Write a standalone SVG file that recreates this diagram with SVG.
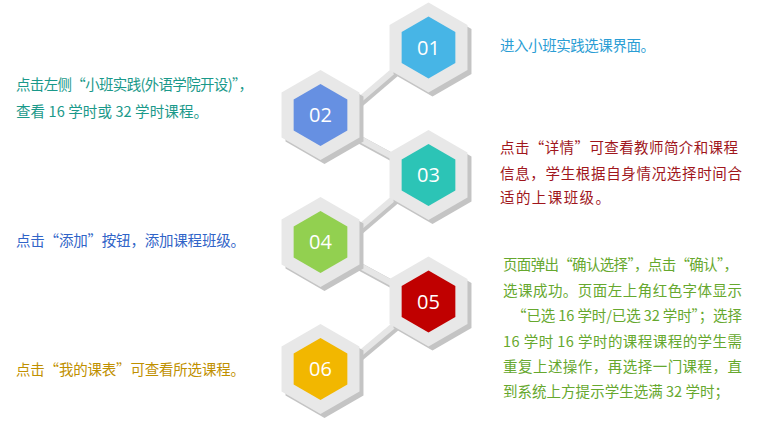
<svg xmlns="http://www.w3.org/2000/svg" xmlns:xlink="http://www.w3.org/1999/xlink" width="760" height="423" viewBox="0 0 760 423">
<style>
.outer{fill:#e8e8e8}
.shadow{fill:#c4c4c4}
.num{font-family:"Open Sans","Noto Sans",sans-serif;font-size:20px;fill:#ffffff;text-anchor:middle}
.t{font-family:"Noto Sans CJK SC","Microsoft YaHei",sans-serif;font-size:14.5px}
.cs{stroke:#c4c4c4;stroke-width:8;fill:none}
.cl{stroke:#e6e6e6;stroke-width:6;fill:none}
</style>
<defs>
<polygon id="hexO" points="0,-45 38.97,-22.5 38.97,22.5 0,45 -38.97,22.5 -38.97,-22.5"/>
<polygon id="hexI" points="0,-31 26.85,-15.5 26.85,15.5 0,31 -26.85,15.5 -26.85,-15.5"/>
</defs>
<rect width="760" height="423" fill="#ffffff"/>
<g id="connectors">
<g transform="translate(2,2)">
<line class="cs" x1="405" y1="61" x2="350" y2="108"/>
<line class="cs" x1="340" y1="128" x2="410" y2="166"/>
<line class="cs" x1="405" y1="188.5" x2="350" y2="235.5"/>
<line class="cs" x1="340" y1="255" x2="410" y2="293"/>
<line class="cs" x1="405" y1="316" x2="350" y2="362"/>
</g>
<line class="cl" x1="405" y1="61" x2="350" y2="108"/>
<line class="cl" x1="340" y1="128" x2="410" y2="166"/>
<line class="cl" x1="405" y1="188.5" x2="350" y2="235.5"/>
<line class="cl" x1="340" y1="255" x2="410" y2="293"/>
<line class="cl" x1="405" y1="316" x2="350" y2="362"/>
</g>
<g id="node01" transform="translate(428.5,47.5)">
<use href="#hexO" class="shadow" x="4" y="4"/>
<use href="#hexO" class="outer"/>
<use href="#hexI" fill="#47b5e6"/>
<text class="num" y="7">01</text>
</g>
<g id="node02" transform="translate(320.5,115)">
<use href="#hexO" class="shadow" x="4" y="4"/>
<use href="#hexO" class="outer"/>
<use href="#hexI" fill="#6690e2"/>
<text class="num" y="7">02</text>
</g>
<g id="node03" transform="translate(428.5,175)">
<use href="#hexO" class="shadow" x="4" y="4"/>
<use href="#hexO" class="outer"/>
<use href="#hexI" fill="#2cc4b6"/>
<text class="num" y="7">03</text>
</g>
<g id="node04" transform="translate(320.5,242)">
<use href="#hexO" class="shadow" x="4" y="4"/>
<use href="#hexO" class="outer"/>
<use href="#hexI" fill="#92d050"/>
<text class="num" y="7">04</text>
</g>
<g id="node05" transform="translate(428.5,301.5)">
<use href="#hexO" class="shadow" x="4" y="4"/>
<use href="#hexO" class="outer"/>
<use href="#hexI" fill="#c00000"/>
<text class="num" y="7">05</text>
</g>
<g id="node06" transform="translate(320.5,369)">
<use href="#hexO" class="shadow" x="4" y="4"/>
<use href="#hexO" class="outer"/>
<use href="#hexI" fill="#f2b700"/>
<text class="num" y="7">06</text>
</g>
<g id="text01" class="t" fill="#2a9dd4">
<text x="500" y="51" textLength="155" lengthAdjust="spacing">进入小班实践选课界面。</text>
</g>
<g id="text02" class="t" fill="#1a998a">
<text x="16" y="90" textLength="237" lengthAdjust="spacing">点击左侧“小班实践(外语学院开设)”，</text>
<text x="16" y="117" textLength="192" lengthAdjust="spacing">查看 16 学时或 32 学时课程。</text>
</g>
<g id="text03" class="t" fill="#a0161c">
<text x="500" y="152.5" textLength="238" lengthAdjust="spacing">点击“详情”可查看教师简介和课程</text>
<text x="500" y="179" textLength="242" lengthAdjust="spacing">信息，学生根据自身情况选择时间合</text>
<text x="500" y="203" textLength="110" lengthAdjust="spacing">适的上课班级。</text>
</g>
<g id="text04" class="t" fill="#3064c8">
<text x="16" y="246" textLength="229" lengthAdjust="spacing">点击“添加”按钮，添加课程班级。</text>
</g>
<g id="text05" class="t" fill="#66a82e">
<text x="503" y="270" textLength="235" lengthAdjust="spacing">页面弹出“确认选择”，点击“确认”，</text>
<text x="503" y="295.5" textLength="239" lengthAdjust="spacing">选课成功。页面左上角红色字体显示</text>
<text x="512" y="321" textLength="230" lengthAdjust="spacing">“已选 16 学时/已选 32 学时”；选择</text>
<text x="503" y="347" textLength="239" lengthAdjust="spacing">16 学时 16 学时的课程课程的学生需</text>
<text x="503" y="372" textLength="239" lengthAdjust="spacing">重复上述操作，再选择一门课程，直</text>
<text x="503" y="397" textLength="226" lengthAdjust="spacing">到系统上方提示学生选满 32 学时；</text>
</g>
<g id="text06" class="t" fill="#bf9000">
<text x="16" y="375" textLength="229" lengthAdjust="spacing">点击“我的课表”可查看所选课程。</text>
</g>
</svg>
